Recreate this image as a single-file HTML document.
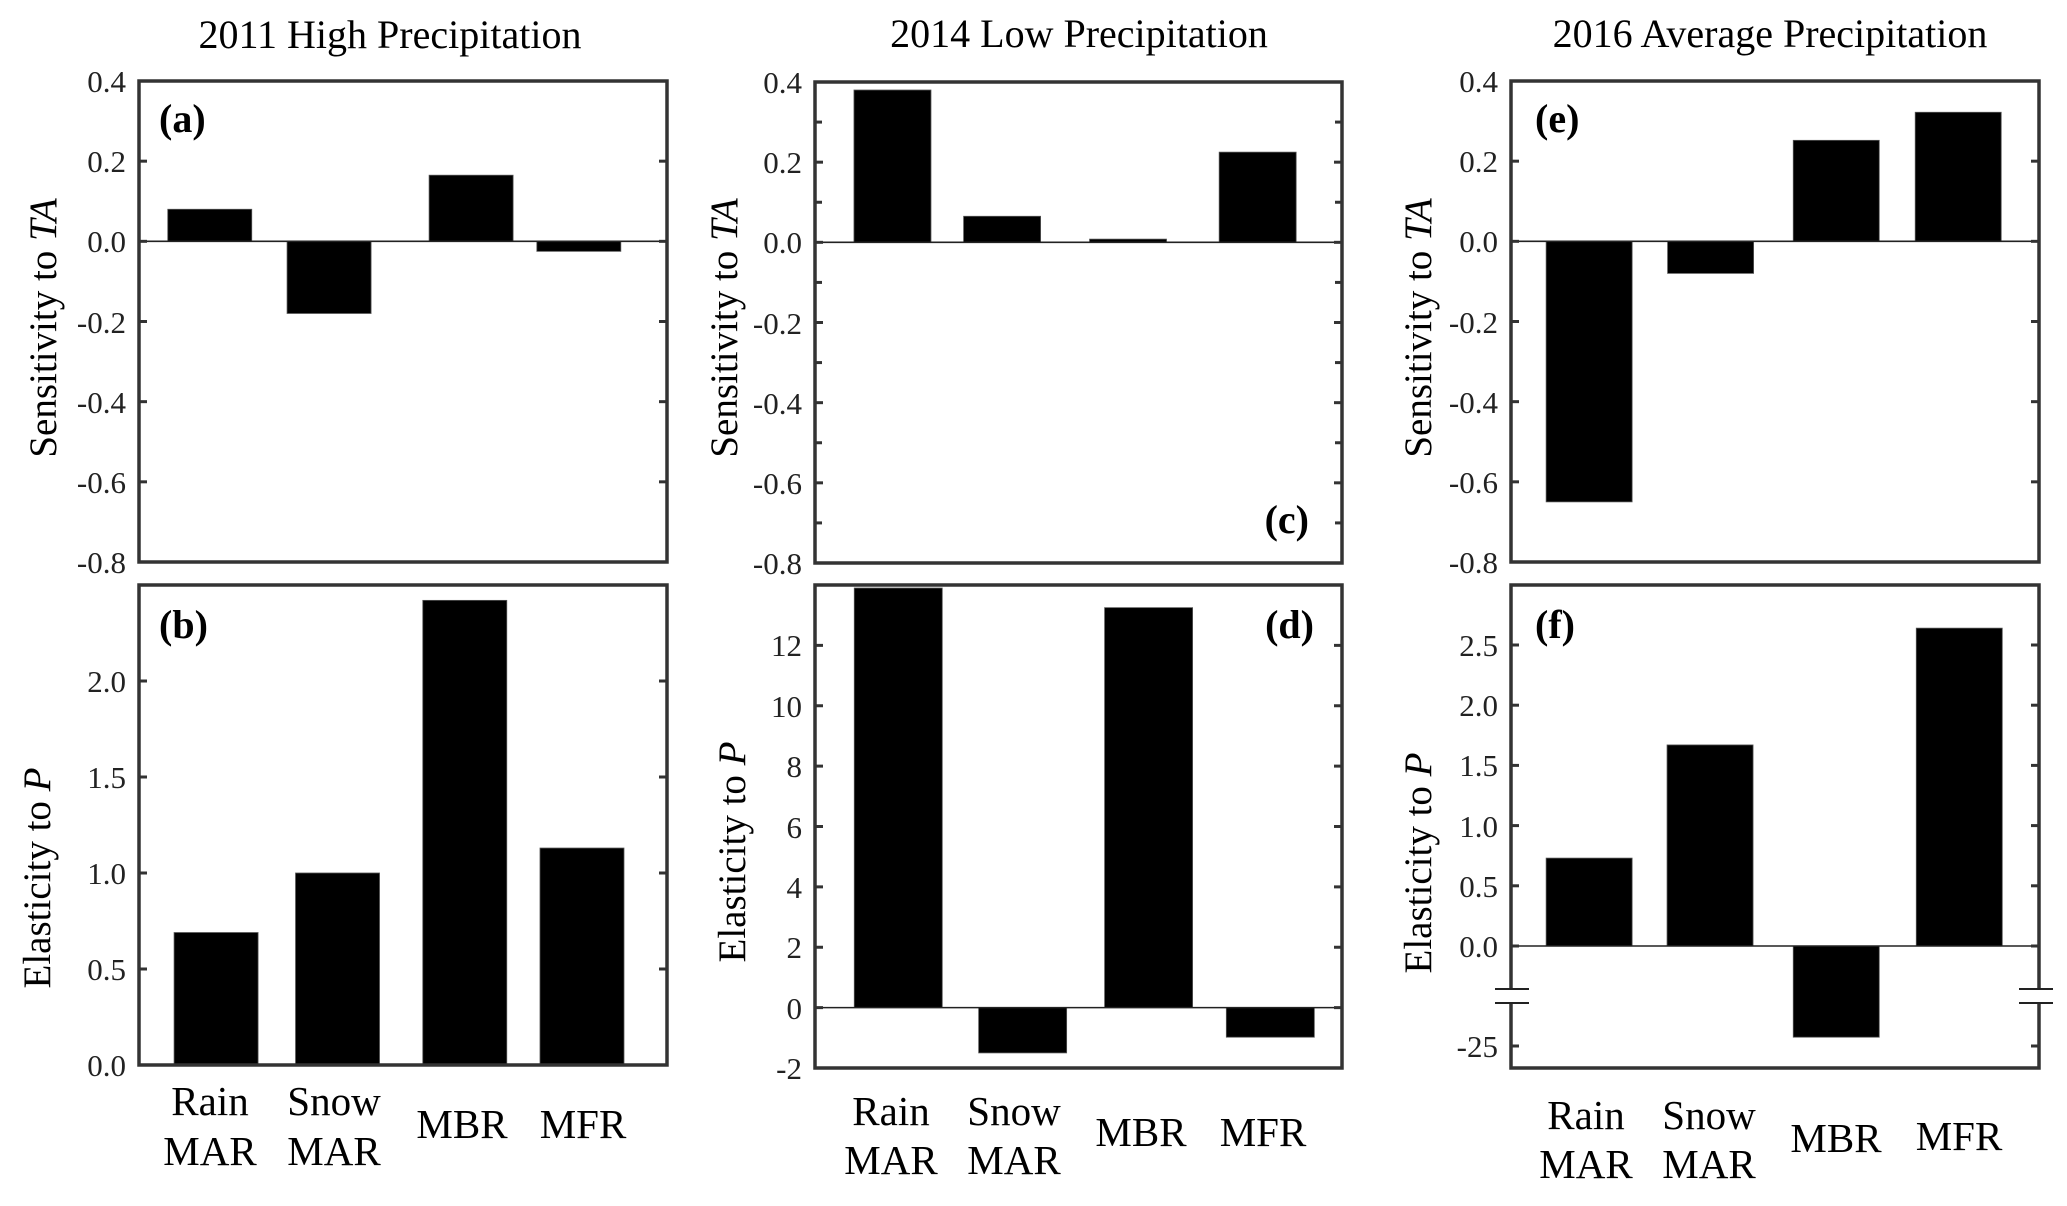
<!DOCTYPE html>
<html><head><meta charset="utf-8"><style>
html,body{margin:0;padding:0;background:#fff;}
svg, svg text{font-family:"Liberation Serif","DejaVu Serif",serif;}
</style></head><body>
<svg id="fig" width="2067" height="1201" viewBox="0 0 2067 1201" xmlns="http://www.w3.org/2000/svg" font-family="Liberation Serif, DejaVu Serif, serif">
<rect width="2067" height="1201" fill="#fff"/>
<g id="marks"></g>
<text x="390" y="48" font-size="40" text-anchor="middle">2011 High Precipitation</text>
<text x="1079" y="47" font-size="40" text-anchor="middle">2014 Low Precipitation</text>
<text x="1770" y="47" font-size="40" text-anchor="middle">2016 Average Precipitation</text>

<g font-size="31" text-anchor="end" fill="#222">
<text x="126" y="92">0.4</text><text x="126" y="172">0.2</text><text x="126" y="252">0.0</text><text x="126" y="333">-0.2</text><text x="126" y="413">-0.4</text><text x="126" y="493">-0.6</text><text x="126" y="573">-0.8</text>
</g>
<g font-size="31" text-anchor="end" fill="#222">
<text x="802" y="93">0.4</text><text x="802" y="173">0.2</text><text x="802" y="253">0.0</text><text x="802" y="334">-0.2</text><text x="802" y="414">-0.4</text><text x="802" y="494">-0.6</text><text x="802" y="574">-0.8</text>
</g>
<g font-size="31" text-anchor="end" fill="#222">
<text x="1498" y="92">0.4</text><text x="1498" y="172">0.2</text><text x="1498" y="252">0.0</text><text x="1498" y="333">-0.2</text><text x="1498" y="413">-0.4</text><text x="1498" y="493">-0.6</text><text x="1498" y="573">-0.8</text>
</g>
<g font-size="31" text-anchor="end" fill="#222">
<text x="126" y="1076">0.0</text><text x="126" y="980">0.5</text><text x="126" y="884">1.0</text><text x="126" y="788">1.5</text><text x="126" y="692">2.0</text>
</g>
<g font-size="31" text-anchor="end" fill="#222">
<text x="802" y="1079">-2</text><text x="802" y="1019">0</text><text x="802" y="958">2</text><text x="802" y="898">4</text><text x="802" y="838">6</text><text x="802" y="777">8</text><text x="802" y="717">10</text><text x="802" y="656">12</text>
</g>
<g font-size="31" text-anchor="end" fill="#222">
<text x="1498" y="957">0.0</text><text x="1498" y="897">0.5</text><text x="1498" y="837">1.0</text><text x="1498" y="776">1.5</text><text x="1498" y="716">2.0</text><text x="1498" y="656">2.5</text><text x="1498" y="1057">-25</text>
</g>

<g font-size="40" font-weight="bold">
<text x="159" y="132">(a)</text>
<text x="159" y="638">(b)</text>
<text x="1309" y="533" text-anchor="end">(c)</text>
<text x="1314" y="638" text-anchor="end">(d)</text>
<text x="1535" y="132">(e)</text>
<text x="1535" y="638">(f)</text>
</g>

<g font-size="39" text-anchor="middle">
<text transform="translate(56,328) rotate(-90)">Sensitivity to <tspan font-style="italic">TA</tspan></text>
<text transform="translate(737,328) rotate(-90)">Sensitivity to <tspan font-style="italic">TA</tspan></text>
<text transform="translate(1431,328) rotate(-90)">Sensitivity to <tspan font-style="italic">TA</tspan></text>
<text transform="translate(50,878) rotate(-90)">Elasticity to <tspan font-style="italic">P</tspan></text>
<text transform="translate(745,852) rotate(-90)">Elasticity to <tspan font-style="italic">P</tspan></text>
<text transform="translate(1431,863) rotate(-90)">Elasticity to <tspan font-style="italic">P</tspan></text>
</g>

<g font-size="41" text-anchor="middle">
<text x="210" y="1115">Rain</text>
<text x="210" y="1165">MAR</text>
<text x="334" y="1115">Snow</text>
<text x="334" y="1165">MAR</text>
<text x="462" y="1138">MBR</text>
<text x="583" y="1138">MFR</text>

<text x="891" y="1125">Rain</text>
<text x="891" y="1174">MAR</text>
<text x="1014" y="1125">Snow</text>
<text x="1014" y="1174">MAR</text>
<text x="1141" y="1146">MBR</text>
<text x="1263" y="1146">MFR</text>

<text x="1586" y="1129">Rain</text>
<text x="1586" y="1178">MAR</text>
<text x="1709" y="1129">Snow</text>
<text x="1709" y="1178">MAR</text>
<text x="1836" y="1152">MBR</text>
<text x="1959" y="1150">MFR</text>
</g>
</svg>
<script>
const categories = ["Rain MAR","Snow MAR","MBR","MFR"];
const valuesA = [0.08, -0.18, 0.165, -0.025];
const valuesB = [0.69, 1.0, 2.42, 1.13];
const valuesC = [0.38, 0.065, 0.008, 0.225];
const valuesD = [13.9, -1.5, 13.25, -0.98];
const valuesE = [-0.65, -0.08, 0.252, 0.322];
const valuesF = [0.73, 1.67, -24.2, 2.64];
const ticksTA = [0.4, 0.2, 0.0, -0.2, -0.4, -0.6, -0.8];
const ticksB = [0.0, 0.5, 1.0, 1.5, 2.0];
const ticksD = [-2, 0, 2, 4, 6, 8, 10, 12];
const ticksF = [0.0, 0.5, 1.0, 1.5, 2.0, 2.5, -25];

const NS = "http://www.w3.org/2000/svg";
const root = document.getElementById("marks");
function mk(tag, attrs, parent) {
  const e = document.createElementNS(NS, tag);
  for (const k in attrs) e.setAttribute(k, attrs[k]);
  (parent || root).appendChild(e);
  return e;
}

function panel(p) {
  const g = mk("g", {});
  
  
  const H = p.y1 - p.y0;
  const y = p.yfn || (v => p.y1 - (v - p.min) / (p.max - p.min) * H);
  p.values.forEach((v, i) => {
    const cx = p.x0 + p.centers[i] * (p.x1 - p.x0);
    const y0 = y(0), yv = y(v);
    const r = mk("rect", {x: cx - p.bw / 2, y: Math.min(y0, yv), width: p.bw, height: Math.abs(yv - y0), fill: "#000", stroke: "#555", "stroke-width": 0.8}, g);
    
    
  });
  const zl = mk("line", {x1: p.x0, x2: p.x1, y1: y(0), y2: y(0), stroke: "#222", "stroke-width": 1.6}, g);
  
  
  const drawTick = (v, len) => {
    const ty = y(v);
    mk("line", {x1: p.x0, x2: p.x0 + len, y1: ty, y2: ty, stroke: "#333", "stroke-width": 3}, g);
    mk("line", {x1: p.x1, x2: p.x1 - len, y1: ty, y2: ty, stroke: "#333", "stroke-width": 3}, g);
  };
  (p.minor || []).forEach(v => drawTick(v, 7));
  p.ticks.forEach(v => drawTick(v, 8));
  const fr = mk("rect", {x: p.x0, y: p.y0, width: p.x1 - p.x0, height: H, fill: "none", stroke: "#333", "stroke-width": 3.5}, g);
  
  
}

panel({id: "a", name: "panel-a", x0: 139, x1: 667, y0: 81, y1: 562, min: -0.8, max: 0.4,
  values: valuesA, centers: [0.134, 0.360, 0.629, 0.833], bw: 84, ticks: ticksTA});
panel({id: "b", name: "panel-b", x0: 139, x1: 667, y0: 585, y1: 1065, min: 0, max: 2.5,
  values: valuesB, centers: [0.146, 0.376, 0.617, 0.839], bw: 84, ticks: ticksB});
panel({id: "c", name: "panel-c", x0: 815, x1: 1342, y0: 82, y1: 563, min: -0.8, max: 0.4,
  values: valuesC, centers: [0.147, 0.355, 0.594, 0.840], bw: 77, ticks: ticksTA,
  minor: [0.3, 0.1, -0.1, -0.3, -0.5, -0.7]});
panel({id: "d", name: "panel-d", x0: 815, x1: 1342, y0: 585, y1: 1068, min: -2, max: 14,
  values: valuesD, centers: [0.158, 0.394, 0.633, 0.864], bw: 88, ticks: ticksD});
panel({id: "e", name: "panel-e", x0: 1511, x1: 2039, y0: 81, y1: 562, min: -0.8, max: 0.4,
  values: valuesE, centers: [0.148, 0.378, 0.616, 0.847], bw: 86, ticks: ticksTA});
const fy = v => v >= -0.7 ? 946 - v * 120.4 : 1046 + (-25 - v) * 11;
panel({id: "f", name: "panel-f", x0: 1511, x1: 2039, y0: 585, y1: 1068, yfn: fy,
  values: valuesF, centers: [0.148, 0.377, 0.616, 0.849], bw: 86, ticks: ticksF});
[[1495, 1529], [2019, 2053]].forEach(([a, b]) => {
  const w = mk("rect", {x: a + 2, y: 990, width: b - a - 4, height: 13, fill: "#fff"});
  
  
  [989, 1003].forEach(yy => {
    const l = mk("line", {x1: a, x2: b, y1: yy, y2: yy, stroke: "#222", "stroke-width": 2});
    
    
  });
});
</script>
</body></html>
